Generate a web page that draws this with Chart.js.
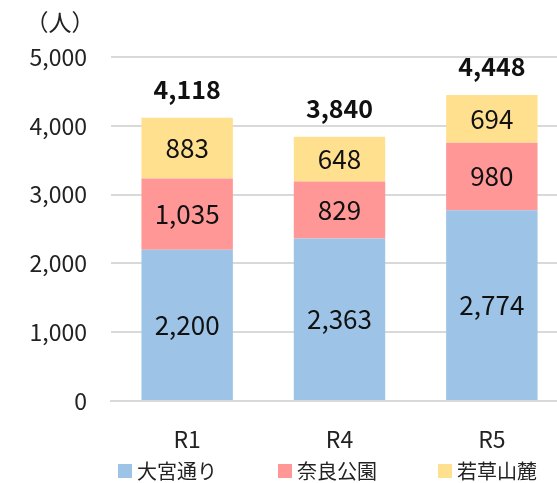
<!DOCTYPE html>
<html>
<head>
<meta charset="utf-8">
<script src="https://cdn.jsdelivr.net/npm/chart.js@4"></script>
<style>
  html, body { margin: 0; padding: 0; background: #fff; overflow: hidden; }
  #wrap { width: 580px; height: 483px; }
</style>
</head>
<body>
<div id="wrap"><canvas id="chart"></canvas></div>
<script>
const categories = ['R1', 'R4', 'R5'];
const seriesNames = ['大宮通り', '奈良公園', '若草山麓'];
const omiyaValues = [2200, 2363, 2774];
const naraParkValues = [1035, 829, 980];
const wakakusaValues = [883, 648, 694];
const totals = [4118, 3840, 4448];
const yTicks = [0, 1000, 2000, 3000, 4000, 5000];

const FONT = "'Noto Sans CJK JP', 'Noto Sans', sans-serif";
const fmt = v => v.toLocaleString('en-US');

// numbers inside the segments, totals on top, unit label and the legend row
const labelPlugin = {
  id: 'labels',
  afterDatasetsDraw(chart) {
    const ctx = chart.ctx;
    ctx.save();
    ctx.textAlign = 'center';
    ctx.textBaseline = 'middle';
    ctx.fillStyle = '#111';
    ctx.font = '26px ' + FONT;
    chart.data.datasets.forEach((ds, i) => {
      chart.getDatasetMeta(i).data.forEach((bar, j) => {
        ctx.fillText(fmt(ds.data[j]), bar.x, (bar.y + bar.base) / 2);
      });
    });
    const top = chart.getDatasetMeta(chart.data.datasets.length - 1).data;
    ctx.font = 'bold 25px ' + FONT;
    top.forEach((bar, j) => {
      ctx.fillText(fmt(totals[j]), bar.x, bar.y - 28);
    });
    ctx.font = '23px ' + FONT;
    ctx.fillStyle = '#222';
    ctx.fillText('（人）', 60, 22);

    // legend
    ctx.textAlign = 'left';
    ctx.font = '20px ' + FONT;
    chart.data.datasets.forEach((ds, i) => {
      const x = 118 + i * 160;
      ctx.fillStyle = ds.backgroundColor;
      ctx.fillRect(x, 464, 14, 14);
      ctx.fillStyle = '#222';
      ctx.fillText(ds.label, x + 19, 471);
    });
    ctx.restore();
  }
};

new Chart(document.getElementById('chart'), {
  type: 'bar',
  data: {
    labels: categories,
    datasets: [
      { label: seriesNames[0], data: omiyaValues, backgroundColor: '#9DC3E6' },
      { label: seriesNames[1], data: naraParkValues, backgroundColor: '#FF9797' },
      { label: seriesNames[2], data: wakakusaValues, backgroundColor: '#FFE08F' }
    ]
  },
  options: {
    responsive: true,
    maintainAspectRatio: false,
    animation: false,
    layout: { padding: { top: 57, right: 12, bottom: 22, left: 0 } },
    datasets: { bar: { categoryPercentage: 1, barPercentage: 0.6 } },
    scales: {
      x: {
        stacked: true,
        grid: { display: false },
        border: { color: '#D9D9D9', width: 2 },
        afterFit: scale => { scale.height = 60; },
        ticks: { color: '#222', font: { family: FONT, size: 23 }, padding: 16 }
      },
      y: {
        stacked: true,
        min: 0,
        max: 5000,
        afterBuildTicks: scale => { scale.ticks = yTicks.map(v => ({ value: v })); },
        afterFit: scale => { scale.width = 111; },
        grid: { color: '#D9D9D9', lineWidth: 2, drawTicks: false },
        border: { display: false },
        ticks: {
          color: '#222',
          font: { family: FONT, size: 23 },
          padding: 24,
          callback: v => fmt(v)
        }
      }
    },
    plugins: {
      legend: { display: false },
      tooltip: { enabled: false }
    }
  },
  plugins: [labelPlugin]
});
</script>
</body>
</html>
